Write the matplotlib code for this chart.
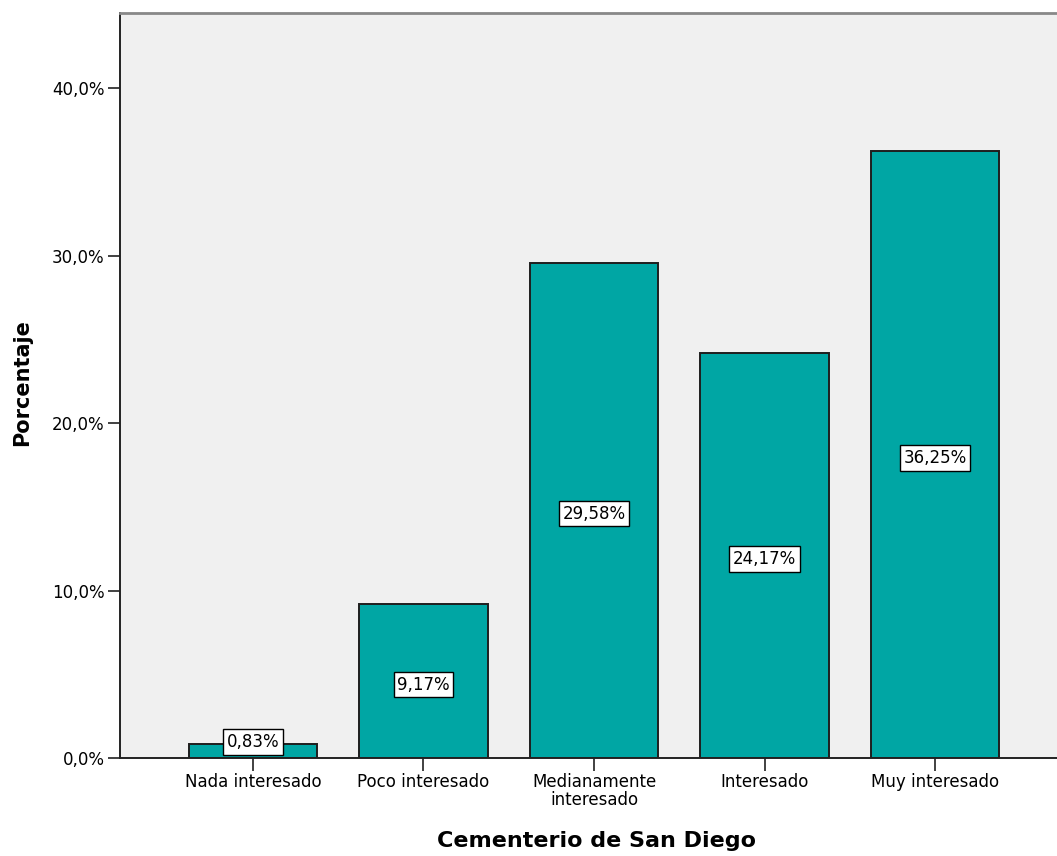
import matplotlib.pyplot as plt
import numpy as np

# datos
categorias = ['Nada interesado', 'Poco interesado', 'Medianamente\ninteresado',
              'Interesado', 'Muy interesado']
porcentajes = [0.83, 9.17, 29.58, 24.17, 36.25]
yticks = [0, 10, 20, 30, 40]
ytick_labels = ['0,0%', '10,0%', '20,0%', '30,0%', '40,0%']

plt.rcParams['font.family'] = ['DejaVu Sans']

fig = plt.figure(figsize=(10.57, 8.56), dpi=100)
ax = fig.add_axes([120/1057, 98/856, 948/1057, 745/856])
ax.set_facecolor('#F0F0F0')

x = np.arange(len(categorias))
ax.bar(x, porcentajes, width=0.756, color='#00A6A4', edgecolor='#1E1E1E', linewidth=1.4)

# etiquetas de valor
for xi, v in zip(x, porcentajes):
    ax.text(xi, max(v/2 - 0.2, 0.95), f'{v:.2f}%'.replace('.', ','),
            ha='center', va='center', fontsize=12,
            bbox=dict(boxstyle='square,pad=0.22', fc='white', ec='black', lw=1))

ax.set_xlim(-0.78, 4.78)
ax.set_ylim(0, 44.5)
ax.set_xticks(x)
ax.set_xticklabels(categorias, fontsize=12, linespacing=1.0)
ax.set_yticks(yticks)
ax.set_yticklabels(ytick_labels, fontsize=12)
ax.tick_params(axis='both', direction='out', length=9, width=1.3, color='#333333', pad=2)

ax.spines['right'].set_visible(False)
ax.spines['top'].set_color('#888888')
ax.spines['top'].set_linewidth(2)
ax.spines['left'].set_linewidth(1.4)
ax.spines['bottom'].set_linewidth(1.4)
ax.spines['left'].set_color('#222222')
ax.spines['bottom'].set_color('#222222')

ax.set_ylabel('Porcentaje', fontsize=15, fontweight='bold')
ax.set_xlabel('Cementerio de San Diego', fontsize=16, fontweight='bold')
ax.yaxis.set_label_coords(-88/948, 375/745)
ax.xaxis.set_label_coords(476/948, -73/745)

fig.savefig('out.png', dpi=100)
